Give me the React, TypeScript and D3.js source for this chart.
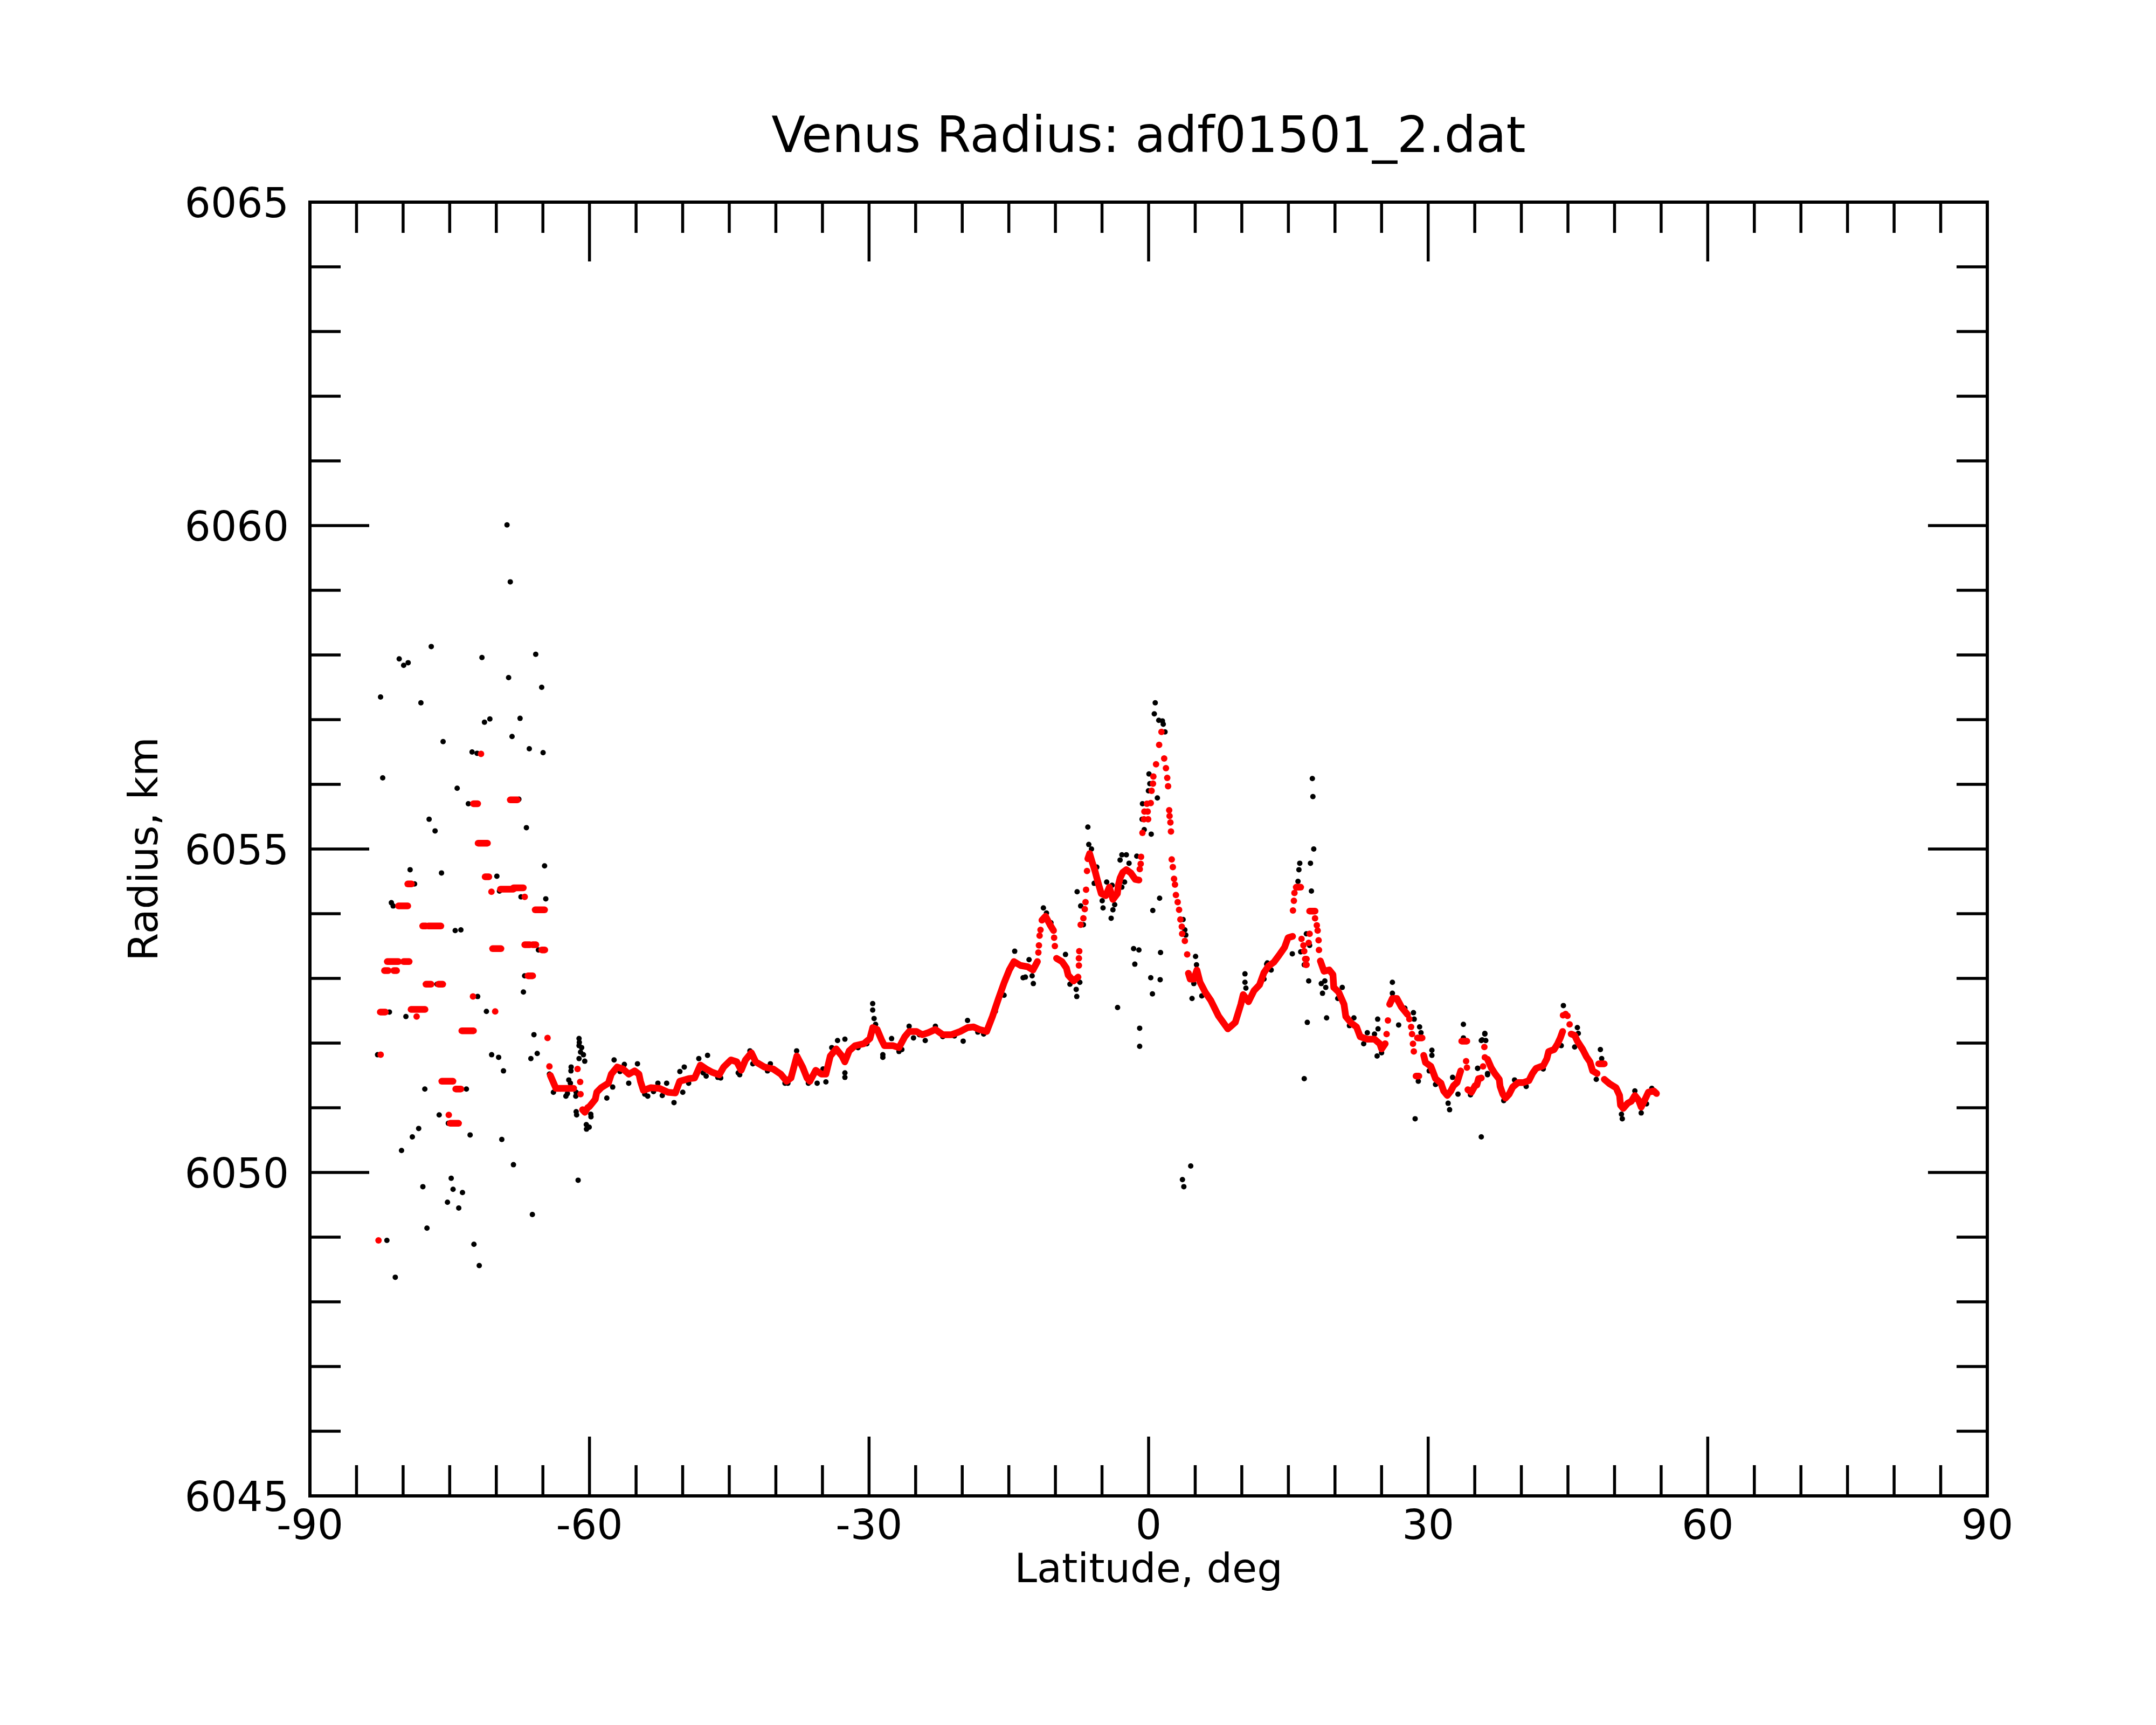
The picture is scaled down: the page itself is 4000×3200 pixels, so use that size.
import React from 'react';
import * as d3 from 'd3';

// ---------- data ----------
const titleText = 'Venus Radius: adf01501_2.dat';
const xLabel = 'Latitude, deg';
const yLabel = 'Radius, km';
const xMajorTicks = [-90, -60, -30, 0, 30, 60, 90];
const yMajorTicks = [6045, 6050, 6055, 6060, 6065];

// raw radius samples (black), [latitude, radius]
const rawSouth: [number, number][] = [
  [-68.85, 6060.01], [-68.5, 6059.13], [-76.98, 6058.13], [-80.42, 6057.94], [-79.94, 6057.84],
  [-79.46, 6057.88], [-71.54, 6057.96], [-65.77, 6058.01], [-82.42, 6057.35], [-78.09, 6057.26],
  [-68.68, 6057.65], [-65.13, 6057.5], [-71.27, 6056.96], [-70.69, 6057.01], [-67.45, 6057.02],
  [-75.71, 6056.66], [-68.31, 6056.74], [-72.6, 6056.5], [-72.06, 6056.48], [-66.46, 6056.55],
  [-64.98, 6056.49], [-82.19, 6056.1], [-74.2, 6055.94], [-73.0, 6055.7], [-67.58, 6055.77],
  [-77.21, 6055.46], [-76.57, 6055.28], [-66.77, 6055.33], [-79.25, 6054.68], [-75.88, 6054.63],
  [-69.94, 6054.58], [-64.82, 6054.74], [-78.77, 6054.46], [-81.26, 6054.17], [-81.07, 6054.12],
  [-64.69, 6054.23], [-74.41, 6053.74], [-73.8, 6053.75], [-69.66, 6054.35], [-67.35, 6054.26],
  [-65.48, 6053.44], [-82.03, 6053.12], [-76.36, 6052.91], [-66.96, 6053.04], [-67.09, 6052.79],
  [-81.47, 6052.48], [-79.7, 6052.41], [-71.06, 6052.49], [-72.0, 6052.72], [-82.74, 6051.82],
  [-70.5, 6051.82], [-69.75, 6051.78], [-69.23, 6051.57], [-65.96, 6052.13], [-66.29, 6051.76],
  [-65.61, 6051.84], [-77.67, 6051.29], [-73.21, 6051.29], [-76.13, 6050.89], [-75.15, 6050.76],
  [-72.81, 6050.58], [-78.33, 6050.68], [-79.01, 6050.55], [-80.17, 6050.34], [-69.41, 6050.51],
  [-68.16, 6050.12], [-74.84, 6049.91], [-74.64, 6049.74], [-73.63, 6049.69], [-77.88, 6049.78],
  [-75.24, 6049.54], [-74.03, 6049.45], [-77.44, 6049.14], [-81.74, 6048.95], [-72.4, 6048.89],
  [-71.83, 6048.56], [-80.84, 6048.38], [-66.13, 6049.35], [-61.22, 6049.88], [-61.38, 6050.89],
  [-61.09, 6052.01], [-60.84, 6051.93], [-60.65, 6051.82], [-60.51, 6051.72],
  [-64.3, 6051.52], [-63.87, 6051.24], [-63.1, 6051.29], [-62.53, 6051.18], [-61.99, 6051.57],
  [-62.05, 6051.38], [-61.47, 6051.18], [-60.32, 6050.67], [-60.03, 6050.7], [-59.84, 6050.86],
];

const rawMid: [number, number][] = [
  [-61.12, 6052.07], [-61.12, 6051.96], [-60.96, 6051.86], [-61.12, 6051.76], [-61.97, 6051.63],
  [-62.22, 6051.43], [-62.37, 6051.22], [-61.43, 6051.24], [-61.43, 6050.94], [-60.34, 6050.74],
  [-59.86, 6050.9], [-58.14, 6051.15], [-57.51, 6051.32], [-57.36, 6051.74],
  [-56.26, 6051.67], [-55.79, 6051.38], [-54.85, 6051.68], [-53.75, 6051.18], [-52.66, 6051.38],
  [-51.72, 6051.38], [-50.93, 6051.08], [-49.99, 6051.24], [-49.83, 6051.63], [-50.3, 6051.56],
  [-48.27, 6051.76], [-47.33, 6051.81], [-47.48, 6051.49], [-45.92, 6051.46], [-43.88, 6051.51],
  [-42.78, 6051.88], [-40.59, 6051.68], [-40.9, 6051.57], [-38.71, 6051.38], [-37.77, 6051.88],
  [-35.57, 6051.38], [-34.94, 6051.6], [-34.63, 6051.4], [-34.0, 6051.93], [-33.38, 6052.04],
  [-32.59, 6052.06], [-32.59, 6051.54], [-32.59, 6051.47], [-29.61, 6052.61], [-29.61, 6052.51],
  [-29.46, 6052.38], [-29.3, 6052.29], [-28.52, 6051.82], [-28.52, 6051.78], [-27.58, 6052.07],
  [-26.79, 6051.87], [-25.7, 6052.26], [-25.23, 6052.08], [-23.97, 6052.04], [-22.88, 6052.26],
  [-19.9, 6052.03], [-19.43, 6052.35], [-13.47, 6053.01],
  [-56.73, 6051.56], [-54.07, 6051.21], [-53.13, 6051.25], [-52.19, 6051.19], [-49.36, 6051.38],
  [-47.8, 6051.54], [-46.23, 6051.47], [-44.04, 6051.54], [-42.47, 6051.68], [-39.96, 6051.57],
  [-39.02, 6051.38], [-36.51, 6051.38], [-31.18, 6051.93], [-30.24, 6051.99], [-26.48, 6051.9],
  [-24.6, 6052.13], [-22.09, 6052.1], [-20.84, 6052.11], [-18.33, 6052.17], [-17.7, 6052.14],
  [-16.45, 6052.49], [-15.51, 6052.74],
];

const rawEquator: [number, number][] = [
  [0.71, 6057.26], [0.61, 6057.09], [1.09, 6056.99], [1.48, 6056.98], [1.57, 6056.93],
  [1.76, 6056.81], [0.04, 6056.16], [0.13, 6056.01], [-0.02, 6055.9], [0.94, 6055.79],
  [-0.66, 6055.7], [-0.7, 6055.46], [-0.47, 6055.3], [0.28, 6055.23], [-6.52, 6055.34],
  [-6.42, 6055.07], [-6.13, 6055.0], [-5.56, 6054.72], [-2.87, 6054.91], [-2.39, 6054.91],
  [-3.06, 6054.83], [-2.1, 6054.78], [-1.27, 6054.89], [-7.67, 6054.34], [-5.84, 6054.47],
  [-4.5, 6054.49], [-3.92, 6054.44], [-2.58, 6054.49], [-2.87, 6054.41], [-4.98, 6054.2],
  [-4.89, 6054.09], [-3.83, 6054.06], [-4.02, 6053.93], [-3.64, 6054.14], [-7.29, 6054.12],
  [-7.0, 6053.83], [1.18, 6054.24], [0.45, 6054.05], [3.7, 6053.91], [3.89, 6053.75],
  [3.99, 6053.67], [5.04, 6053.34], [5.14, 6053.21], [4.85, 6052.92], [4.66, 6052.69],
  [5.71, 6052.73], [10.34, 6053.07], [10.34, 6052.94], [10.44, 6052.85], [12.74, 6053.24],
  [-11.29, 6054.09], [-10.96, 6054.01], [-10.48, 6053.86], [-14.37, 6053.42], [-12.83, 6053.29],
  [-13.22, 6053.02], [-12.37, 6052.92], [-12.5, 6053.04], [-8.92, 6053.37], [-8.44, 6052.91],
  [-7.77, 6052.83], [-7.71, 6052.72], [-7.38, 6052.94], [-1.61, 6053.46], [-1.04, 6053.44],
  [-1.48, 6053.22], [1.28, 6053.4], [0.23, 6053.01], [1.24, 6052.98], [0.41, 6052.76],
  [-0.96, 6051.95], [-0.96, 6052.23], [-3.33, 6052.55],
  [3.63, 6049.89], [3.78, 6049.78], [4.52, 6050.1],
];

const rawNorth: [number, number][] = [
  [17.57, 6056.09], [17.63, 6055.81], [17.72, 6055.0], [17.37, 6054.78], [16.22, 6054.78],
  [16.13, 6054.68], [16.03, 6054.5], [17.47, 6054.35], [16.93, 6053.69], [17.28, 6053.51],
  [16.32, 6053.41], [16.7, 6053.21], [15.42, 6053.38], [17.18, 6052.96], [17.03, 6052.32],
  [16.7, 6051.45], [18.53, 6052.92], [19.01, 6052.86], [18.91, 6052.96], [18.66, 6052.77],
  [19.1, 6052.39], [20.78, 6052.86], [20.3, 6052.69], [22.03, 6052.39], [21.55, 6052.27],
  [23.47, 6052.16], [23.08, 6051.99], [24.58, 6052.37], [24.62, 6052.22], [24.24, 6052.14],
  [24.52, 6051.8], [25.0, 6051.85], [26.16, 6052.94], [26.16, 6052.77], [26.83, 6052.28],
  [27.5, 6052.54], [28.42, 6052.47], [28.5, 6052.37], [29.08, 6052.25], [29.23, 6052.16],
  [28.94, 6051.41], [28.6, 6050.83], [30.4, 6051.89], [30.4, 6051.81], [30.11, 6051.57],
  [30.79, 6051.36], [32.14, 6051.07], [32.3, 6050.97], [32.62, 6051.47], [33.2, 6051.21],
  [33.78, 6052.29], [33.78, 6052.08], [36.08, 6052.15], [35.7, 6052.04], [36.18, 6052.04],
  [35.31, 6051.61], [36.37, 6051.53], [35.7, 6050.55], [34.54, 6051.2],
  [12.67, 6053.22], [13.15, 6053.13], [12.38, 6052.99],
  [44.51, 6052.58], [46.01, 6052.24], [46.11, 6052.15], [45.72, 6051.94], [48.48, 6051.9],
  [48.62, 6051.76], [48.04, 6051.44], [50.83, 6050.83], [50.74, 6050.9], [52.86, 6050.92],
  [52.18, 6051.26], [36.08, 6052.14], [35.79, 6052.05], [36.37, 6051.51], [35.31, 6051.61],
  [38.11, 6051.11], [39.27, 6051.43], [40.52, 6051.33], [42.35, 6051.6], [44.28, 6051.96],
  [54.0, 6051.3], [53.43, 6051.06],
];

// smoothed radius (red): flat runs [lat start, lat end, radius]
const fitRuns: [number, number, number][] = [
  [-82.45, -81.9, 6052.48], [-82.0, -81.6, 6053.12], [-81.0, -80.7, 6053.12], [-81.7, -80.5, 6053.26],
  [-79.95, -79.35, 6053.26], [-80.5, -79.5, 6054.12], [-79.5, -79.1, 6054.46], [-77.9, -77.55, 6053.81],
  [-77.3, -75.95, 6053.81], [-77.55, -77.0, 6052.91], [-76.2, -75.75, 6052.91], [-79.15, -77.65, 6052.52],
  [-75.85, -74.65, 6051.41], [-74.35, -73.8, 6051.29], [-74.95, -74.05, 6050.76], [-73.7, -72.45, 6052.19],
  [-72.45, -72.0, 6055.7], [-71.95, -70.95, 6055.09], [-71.2, -70.8, 6054.57], [-70.4, -69.5, 6053.46],
  [-69.55, -68.15, 6054.38], [-68.5, -67.75, 6055.76], [-68.15, -67.1, 6054.4], [-66.95, -66.4, 6053.52],
  [-66.1, -65.75, 6053.52], [-65.12, -64.8, 6053.44], [-66.6, -66.1, 6053.04], [-65.83, -64.82, 6054.06],
  [15.84, 16.32, 6054.41], [17.28, 17.86, 6054.04], [28.7, 29.0, 6051.49], [28.85, 29.35, 6052.08],
  [33.6, 34.15, 6052.03], [48.3, 48.9, 6051.68],
];

// smoothed radius (red): isolated samples [lat, radius]
const fitDots: [number, number][] = [
  [-82.64, 6048.95], [-82.41, 6051.82], [-78.55, 6052.41], [-75.1, 6050.89], [-72.5, 6052.72],
  [-71.64, 6056.47], [-70.52, 6054.34], [-70.12, 6052.49], [-66.95, 6054.26], [-64.5, 6052.08],
  [-64.3, 6051.64], [-61.28, 6051.6], [-61.0, 6051.4], [-60.96, 6051.21],
  [-11.83, 6053.4], [-11.77, 6053.51], [-11.7, 6053.66], [-11.6, 6053.75],
  [-10.14, 6053.63], [-10.06, 6053.5],
  [-7.48, 6053.2], [-7.48, 6053.31], [-7.44, 6053.42], [-7.29, 6053.83], [-7.0, 6053.93],
  [-6.85, 6054.07], [-6.77, 6054.18], [-6.71, 6054.37], [-6.61, 6054.66],
  [-0.95, 6054.69], [-0.85, 6054.77], [-0.81, 6054.88], [-0.66, 6055.25], [-0.5, 6055.46],
  [-0.05, 6055.46], [-0.45, 6055.58], [-0.1, 6055.58], [-0.18, 6055.7], [0.23, 6055.71],
  [0.32, 6055.9], [0.47, 6056.01], [0.51, 6056.12], [0.8, 6056.31], [1.13, 6056.61], [1.38, 6056.81],
  [1.67, 6056.4], [1.86, 6056.25], [2.0, 6056.1], [2.09, 6055.97], [2.21, 6055.6], [2.25, 6055.51],
  [2.34, 6055.41], [2.4, 6055.27], [2.48, 6054.84], [2.6, 6054.72], [2.73, 6054.54], [2.83, 6054.45],
  [2.93, 6054.29], [3.12, 6054.18], [3.27, 6054.06], [3.41, 6053.91], [3.56, 6053.8], [3.6, 6053.69],
  [3.89, 6053.58], [4.14, 6053.37],
  [15.49, 6054.05], [15.59, 6054.2], [15.65, 6054.32], [16.41, 6053.61], [16.61, 6053.51],
  [16.7, 6053.42], [16.8, 6053.3], [16.86, 6053.21], [17.28, 6053.69], [17.18, 6053.55],
  [16.95, 6053.3], [16.95, 6053.21], [17.86, 6053.93], [18.05, 6053.82], [18.14, 6053.74],
  [18.24, 6053.59], [18.28, 6053.44], [25.54, 6052.14], [25.68, 6052.35],
  [27.98, 6052.37], [28.17, 6052.25], [28.27, 6052.14], [28.37, 6051.99], [28.46, 6051.87],
  [34.07, 6051.72], [34.16, 6051.62], [35.89, 6051.64], [36.03, 6051.94], [36.08, 6051.78],
  [44.47, 6052.43], [44.75, 6052.45], [44.95, 6052.42], [45.18, 6052.29],
];

// smoothed radius (red): dense stretches [lat, radius]
const fitSouth: [number, number][] = [
  [-64.2, 6051.5], [-63.9, 6051.4], [-63.6, 6051.3], [-62.5, 6051.3], [-61.7, 6051.3],
];
const fitPlains: [number, number][] = [
  [-60.75, 6050.97], [-60.5, 6050.93], [-60.2, 6051.0], [-60.0, 6051.02], [-59.38, 6051.13],
  [-59.22, 6051.24], [-58.75, 6051.31], [-57.97, 6051.38], [-57.66, 6051.52], [-57.03, 6051.63],
  [-56.41, 6051.6], [-55.78, 6051.52], [-55.16, 6051.57], [-54.69, 6051.52], [-54.53, 6051.41],
  [-54.22, 6051.27], [-53.44, 6051.31], [-52.5, 6051.3], [-51.57, 6051.24], [-50.78, 6051.23],
  [-50.32, 6051.41], [-49.35, 6051.45], [-48.72, 6051.46], [-48.1, 6051.66], [-47.48, 6051.6],
  [-46.85, 6051.55], [-46.07, 6051.51], [-45.6, 6051.63], [-44.82, 6051.74], [-44.19, 6051.71],
  [-43.72, 6051.58], [-43.26, 6051.74], [-42.63, 6051.85], [-42.16, 6051.71], [-41.23, 6051.63],
  [-40.29, 6051.6], [-39.47, 6051.52], [-38.85, 6051.41], [-38.38, 6051.46], [-37.75, 6051.8],
  [-37.13, 6051.63], [-36.66, 6051.46], [-36.35, 6051.41], [-35.72, 6051.58], [-35.1, 6051.52],
  [-34.63, 6051.52], [-34.16, 6051.8], [-33.53, 6051.91], [-32.91, 6051.8], [-32.6, 6051.71],
  [-32.13, 6051.88], [-31.5, 6051.96], [-30.56, 6051.99], [-29.91, 6052.07], [-29.6, 6052.24],
  [-29.13, 6052.21], [-28.66, 6052.05], [-28.35, 6051.96], [-27.41, 6051.96], [-26.79, 6051.93],
  [-26.16, 6052.1], [-25.69, 6052.18], [-24.91, 6052.18], [-24.29, 6052.13], [-23.66, 6052.16],
  [-22.88, 6052.21], [-22.09, 6052.13], [-21.15, 6052.13], [-20.21, 6052.18], [-19.42, 6052.24],
  [-18.79, 6052.25], [-18.17, 6052.21], [-17.38, 6052.18], [-16.76, 6052.41], [-16.13, 6052.68],
  [-15.51, 6052.93], [-14.95, 6053.13], [-14.45, 6053.26], [-13.75, 6053.2], [-12.98, 6053.18],
  [-12.41, 6053.13], [-11.93, 6053.26],
];
const fitRiseA: [number, number][] = [
  [-11.45, 6053.9], [-11.06, 6053.96], [-10.58, 6053.83], [-10.2, 6053.74],
];
const fitRiseB: [number, number][] = [
  [-9.88, 6053.31], [-9.3, 6053.26], [-8.82, 6053.16], [-8.63, 6053.05], [-8.05, 6052.96], [-7.57, 6053.02],
];
const fitRiseC: [number, number][] = [
  [-6.52, 6054.85], [-6.33, 6054.93], [-6.04, 6054.79], [-5.75, 6054.66], [-5.46, 6054.5],
  [-5.08, 6054.31], [-4.6, 6054.28], [-4.21, 6054.41], [-3.83, 6054.22], [-3.35, 6054.31],
  [-3.25, 6054.44], [-3.06, 6054.55], [-2.77, 6054.64], [-2.39, 6054.68], [-1.91, 6054.63],
  [-1.43, 6054.53], [-1.04, 6054.52],
];
const fitNorthA: [number, number][] = [
  [4.27, 6053.08], [4.46, 6052.99], [4.85, 6052.99], [5.18, 6053.13], [5.52, 6052.94],
  [6.1, 6052.78], [6.67, 6052.66], [7.5, 6052.42], [8.5, 6052.22], [9.3, 6052.32],
  [9.9, 6052.6], [10.15, 6052.75], [10.72, 6052.64], [11.31, 6052.81], [11.9, 6052.9],
  [12.38, 6053.09], [12.86, 6053.19], [13.44, 6053.25], [14.01, 6053.36], [14.59, 6053.48],
  [14.97, 6053.63], [15.45, 6053.65],
];
const fitNorthB: [number, number][] = [
  [18.43, 6053.27], [18.82, 6053.11], [19.39, 6053.13], [19.78, 6053.06], [19.87, 6052.86],
  [20.39, 6052.79], [20.97, 6052.6], [21.16, 6052.41], [21.74, 6052.31], [22.31, 6052.25],
  [22.7, 6052.1], [23.47, 6052.06], [24.24, 6052.06], [24.81, 6051.99], [25.0, 6051.91], [25.39, 6051.99],
];
const fitNorthC: [number, number][] = [
  [25.87, 6052.6], [26.16, 6052.69], [26.64, 6052.69], [27.12, 6052.56], [27.79, 6052.44],
];
const fitNorthD: [number, number][] = [
  [29.52, 6051.81], [29.71, 6051.7], [30.29, 6051.64], [30.48, 6051.57], [30.79, 6051.45],
  [31.37, 6051.38], [31.66, 6051.26], [32.05, 6051.19], [32.43, 6051.26], [32.72, 6051.34],
  [33.1, 6051.39], [33.49, 6051.57],
];
const fitNorthE: [number, number][] = [
  [34.26, 6051.28], [34.64, 6051.24], [35.03, 6051.34], [35.22, 6051.35], [35.41, 6051.45], [35.7, 6051.46],
];
const fitNorthF: [number, number][] = [
  [36.37, 6051.75], [36.76, 6051.62], [37.15, 6051.53], [37.63, 6051.44], [37.72, 6051.33],
  [38.01, 6051.21], [38.3, 6051.15], [38.69, 6051.21], [39.07, 6051.32], [39.65, 6051.39],
  [40.23, 6051.39], [40.81, 6051.42], [41.19, 6051.53], [41.58, 6051.61], [42.35, 6051.65],
  [42.74, 6051.76], [42.93, 6051.87], [43.51, 6051.9], [43.89, 6051.99], [44.18, 6052.08], [44.43, 6052.18],
];
const fitNorthG: [number, number][] = [
  [45.34, 6052.14], [45.72, 6052.12], [46.01, 6052.03], [46.59, 6051.9], [46.98, 6051.79],
  [47.36, 6051.71], [47.65, 6051.57], [48.13, 6051.53],
];
const fitNorthH: [number, number][] = [
  [48.9, 6051.44], [49.48, 6051.37], [50.16, 6051.31], [50.54, 6051.19], [50.64, 6051.04],
  [50.93, 6050.99], [51.41, 6051.07], [51.8, 6051.1], [52.18, 6051.19], [52.57, 6051.12],
  [52.86, 6051.01], [53.24, 6051.12], [53.63, 6051.24], [54.21, 6051.26], [54.5, 6051.22],
];

const fitTracks = [
  fitSouth, fitPlains, fitRiseA, fitRiseB, fitRiseC,
  fitNorthA, fitNorthB, fitNorthC, fitNorthD, fitNorthE, fitNorthF, fitNorthG, fitNorthH,
];
const rawAll = [...rawSouth, ...rawMid, ...rawEquator, ...rawNorth];

// ---------- layout ----------
const W = 4000;
const H = 3200;
const PL = 575, PR = 3687, PT = 375, PB = 2775;
const FONT = '"DejaVu Sans", "Liberation Sans", sans-serif';
const RED = '#ff0000';

export default function App() {
  const x = d3.scaleLinear().domain([-90, 90]).range([PL, PR]);
  const y = d3.scaleLinear().domain([6045, 6065]).range([PB, PT]);
  const xMinor = d3.range(-90, 90.01, 5);
  const yMinor = d3.range(6045, 6065.01, 1);
  const line = d3
    .line<[number, number]>()
    .x((d) => x(d[0]))
    .y((d) => y(d[1]))
    .curve(d3.curveLinear);

  const MAJ = 110;
  const MIN = 57;
  const tickW = 5.5;

  return (
    <svg
      width={W}
      height={H}
      viewBox={`0 0 ${W} ${H}`}
      style={{ position: 'absolute', left: 0, top: 0, background: '#fff' }}
    >
      <rect x={0} y={0} width={W} height={H} fill="#fff" />

      {/* raw samples */}
      <g fill="#000">
        {rawAll.map((d, i) => (
          <circle key={i} cx={x(d[0])} cy={y(d[1])} r={5} />
        ))}
      </g>

      {/* smoothed radius */}
      <g stroke={RED} strokeWidth={12.5} strokeLinecap="round" strokeLinejoin="round" fill="none">
        {fitTracks.map((t, i) => (
          <path key={i} d={line(t) || ''} />
        ))}
        {fitRuns.map((d, i) => (
          <line key={i} x1={x(d[0])} x2={x(d[1])} y1={y(d[2])} y2={y(d[2])} />
        ))}
      </g>
      <g fill={RED}>
        {fitDots.map((d, i) => (
          <circle key={i} cx={x(d[0])} cy={y(d[1])} r={6} />
        ))}
      </g>

      {/* ticks */}
      <g stroke="#000" strokeWidth={tickW}>
        {xMinor.map((v) => {
          const len = xMajorTicks.includes(v) ? MAJ : MIN;
          return (
            <g key={'x' + v}>
              <line x1={x(v)} x2={x(v)} y1={PB} y2={PB - len} />
              <line x1={x(v)} x2={x(v)} y1={PT} y2={PT + len} />
            </g>
          );
        })}
        {yMinor.map((v) => {
          const len = yMajorTicks.includes(v) ? MAJ : MIN;
          return (
            <g key={'y' + v}>
              <line x1={PL} x2={PL + len} y1={y(v)} y2={y(v)} />
              <line x1={PR} x2={PR - len} y1={y(v)} y2={y(v)} />
            </g>
          );
        })}
      </g>

      {/* frame */}
      <rect x={PL} y={PT} width={PR - PL} height={PB - PT} fill="none" stroke="#000" strokeWidth={6} />

      {/* labels */}
      <g fontFamily={FONT} fill="#000" fontSize={76}>
        {xMajorTicks.map((v) => (
          <text key={'xl' + v} x={x(v)} y={2855} textAnchor="middle">
            {String(v)}
          </text>
        ))}
        {yMajorTicks.map((v) => (
          <text key={'yl' + v} x={536} y={y(v) + 28} textAnchor="end">
            {String(v)}
          </text>
        ))}
        <text x={(PL + PR) / 2} y={2935} textAnchor="middle" fontSize={75}>
          {xLabel}
        </text>
        <text
          x={0}
          y={0}
          textAnchor="middle"
          fontSize={75}
          transform={`translate(292, ${(PT + PB) / 2}) rotate(-90)`}
        >
          {yLabel}
        </text>
        <text x={(PL + PR) / 2} y={282} textAnchor="middle" fontSize={92}>
          {titleText}
        </text>
      </g>
    </svg>
  );
}
